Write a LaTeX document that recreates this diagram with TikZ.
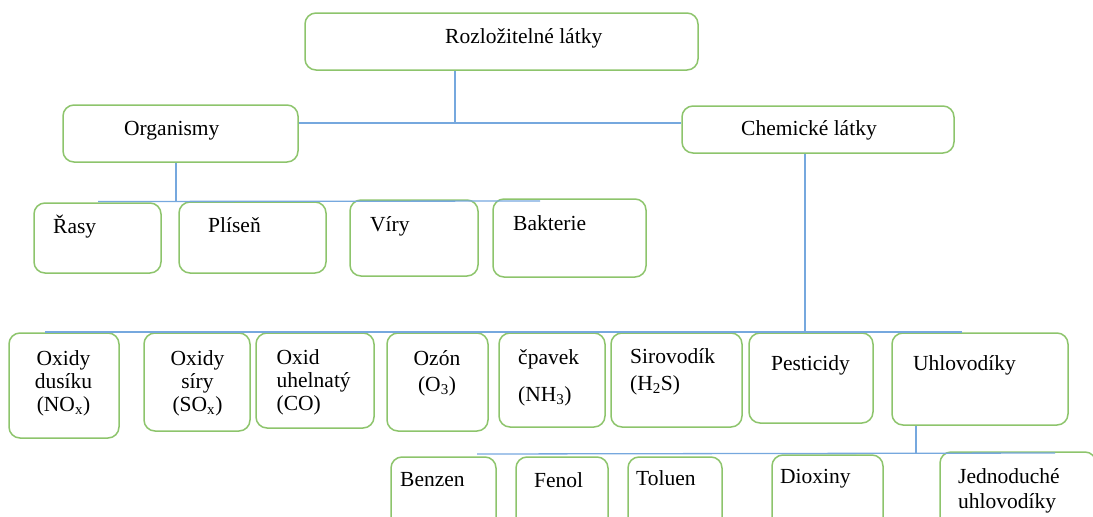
\documentclass[tikz,border=0pt]{standalone}
\usepackage{fontspec}
\setmainfont{Liberation Serif}
\usepackage{xcolor}
\definecolor{boxgreen}{RGB}{141,196,108}
\definecolor{linkblue}{RGB}{118,168,222}

\begin{document}
\begin{tikzpicture}[x=1pt,y=-1pt]
    \tikzstyle{B}=[rectangle,draw=boxgreen,line width=1.5pt,rounded corners=11pt]
    \tikzstyle{T}=[inner sep=0pt,font=\fontsize{21.5}{23}\selectfont]
    \tikzstyle{C}=[draw=linkblue,line width=1.3pt]

   \useasboundingbox (0,0) rectangle (1093,517);
   \clip (0,0) rectangle (1093,517);

   % top levels
   \node [B,minimum width=393,minimum height=57] (root) at (501.5,41.5) {};
   \node [B,minimum width=235,minimum height=57] (org) at (180.5,133.5) {};
   \node [B,minimum width=272,minimum height=47] (chem) at (818,129.5) {};

   % organismy
   \node [B,minimum width=127,minimum height=70] (rasy) at (97.5,238) {};
   \node [B,minimum width=147,minimum height=71] (plisen) at (252.5,237.5) {};
   \node [B,minimum width=128,minimum height=76] (viry) at (414,238) {};
   \node [B,minimum width=153,minimum height=78] (bakt) at (569.5,238) {};

   % chemicke latky
   \node [B,minimum width=110,minimum height=105] (dus) at (64,385.5) {};
   \node [B,minimum width=106,minimum height=98] (sry) at (197,382) {};
   \node [B,minimum width=118,minimum height=95] (uhel) at (315,380.5) {};
   \node [B,minimum width=101,minimum height=98] (ozon) at (437.5,382) {};
   \node [B,minimum width=106,minimum height=94] (cpav) at (552,380) {};
   \node [B,minimum width=131,minimum height=94] (sirov) at (676.5,380) {};
   \node [B,minimum width=124,minimum height=90] (pest) at (811,378) {};
   \node [B,minimum width=176,minimum height=92] (uhlov) at (980,379) {};

   % uhlovodiky
   \node [B,minimum width=105,minimum height=83] (benz) at (443.5,498.5) {};
   \node [B,minimum width=92,minimum height=83] (fenol) at (562,498.5) {};
   \node [B,minimum width=94,minimum height=83] (tolu) at (675,498.5) {};
   \node [B,minimum width=111,minimum height=85] (diox) at (827.5,497.5) {};
   \node [B,minimum width=156,minimum height=88] (jedn) at (1018,496) {};

   % texts (multi-line ones sit on their last line)
   \node [T,anchor=base west] (tRoot) at (445,43) {Rozložitelné látky};
   \node [T,anchor=base west] (tOrg) at (124,135) {Organismy};
   \node [T,anchor=base west] (tChem) at (741,135) {Chemické látky};
   \node [T,anchor=base west] (tRasy) at (53,233) {Řasy};
   \node [T,anchor=base west] (tPlisen) at (208,232) {Plíseň};
   \node [T,anchor=base west] (tViry) at (370,231.5) {Víry};
   \node [T,anchor=base west] (tBakt) at (513,230) {Bakterie};
   \node [T,align=center,anchor=base] (tDus) at (63.5,411.5) {Oxidy\\dusíku\\(NO\textsubscript{x})};
   \node [T,align=center,anchor=base] (tSry) at (197.5,411.5) {Oxidy\\síry\\(SO\textsubscript{x})};
   \node [T,align=left,anchor=base west] (tUhel) at (276.5,410) {Oxid\\uhelnatý\\(CO)};
   \node [T,align=center,anchor=base] (tOzon) at (437,391.5) {Ozón\\[3pt](O\textsubscript{3})};
   \node [T,align=left,anchor=base west] (tCpav) at (518,401.5) {čpavek\\[14pt](NH\textsubscript{3})};
   \node [T,align=left,anchor=base west] (tSirov) at (630,390.5) {Sirovodík\\[4pt](H\textsubscript{2}S)};
   \node [T,anchor=base] (tPest) at (810.5,370) {Pesticidy};
   \node [T,anchor=base west] (tUhlov) at (913,370.5) {Uhlovodíky};
   \node [T,anchor=base west] (tBenz) at (400,486.5) {Benzen};
   \node [T,anchor=base west] (tFenol) at (534,487) {Fenol};
   \node [T,anchor=base west] (tTolu) at (636,485) {Toluen};
   \node [T,anchor=base west] (tDiox) at (780,483.5) {Dioxiny};
   \node [T,align=left,anchor=base west] (tJedn) at (958,508.5) {Jednoduché\\[2pt]uhlovodíky};

   % connectors
   \coordinate (k1) at (455,123);
   \draw [C] (root.south -| k1) -- (k1);
   \draw [C] (org.east |- k1) -- (chem.west |- k1);

   \coordinate (k2) at (176,201.5);
   \coordinate (k2a) at (98,201.5);
   \coordinate (k2b) at (540,201);
   \draw [C] (org.south -| k2) -- (k2);
   \draw [C] (k2a) -- (k2b);

   \coordinate (k3) at (805,332);
   \coordinate (k3a) at (45,332);
   \coordinate (k3b) at (962,332);
   \draw [C] (chem.south -| k3) -- (k3);
   \draw [C] (k3a) -- (k3b);

   \coordinate (k4) at (916,453.5);
   \coordinate (k4a) at (477,454);
   \coordinate (k4b) at (1055,453);
   \draw [C] (uhlov.south -| k4) -- (k4);
   \draw [C] (k4a) -- (k4b);
\end{tikzpicture}
\end{document}
